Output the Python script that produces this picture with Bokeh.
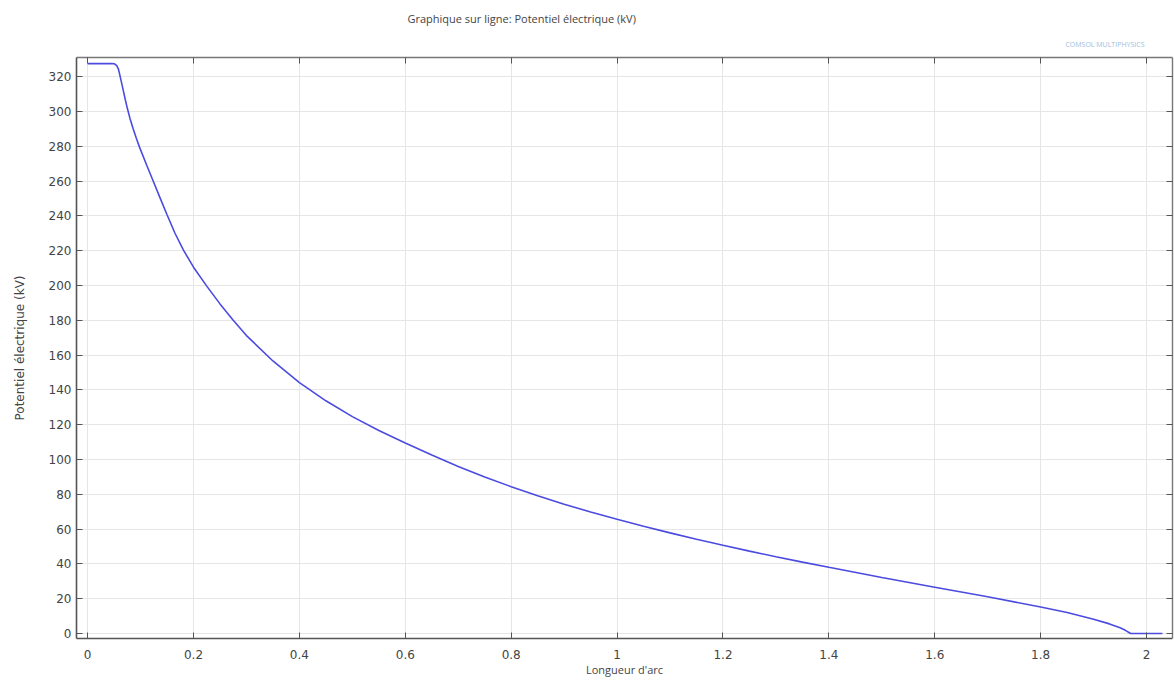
from bokeh.plotting import figure
from bokeh.models import Range1d, LinearAxis, FixedTicker, Title
from bokeh.embed import file_html
from bokeh.resources import INLINE

# Data (arc length, electric potential in kV)
arc_length = [0.0, 0.045, 0.05, 0.052, 0.055, 0.058, 0.06, 0.063, 0.067, 0.071,
              0.075, 0.08, 0.086, 0.092, 0.098, 0.112, 0.125, 0.137, 0.15, 0.165,
              0.181, 0.2, 0.225, 0.25, 0.275, 0.3, 0.35, 0.4, 0.45, 0.5,
              0.55, 0.6, 0.65, 0.7, 0.75, 0.8, 0.85, 0.9, 0.95, 1.0,
              1.05, 1.1, 1.15, 1.2, 1.25, 1.3, 1.35, 1.4, 1.5, 1.6,
              1.7, 1.8, 1.85, 1.9, 1.93, 1.95, 1.96, 1.97, 2.03]
potential_kv = [327.5, 327.5, 327.4, 327.1, 326.3, 324.5, 322.0, 318.0, 312.5, 307.0,
                301.8, 296.0, 290.0, 284.6, 279.5, 268.8, 259.2, 250.2, 240.6, 230.0,
                220.3, 210.5, 199.6, 189.4, 180.0, 171.2, 156.6, 144.2, 133.7, 124.6,
                116.6, 109.5, 102.5, 96.0, 89.95, 84.35, 79.15, 74.3, 69.8, 65.6,
                61.6, 57.8, 54.15, 50.65, 47.3, 44.1, 41.0, 38.0, 32.2, 26.6,
                21.1, 15.2, 12.0, 8.2, 5.5, 3.3, 1.8, 0.0, 0.0]

x_ticks = [0, 0.2, 0.4, 0.6, 0.8, 1, 1.2, 1.4, 1.6, 1.8, 2]
x_tick_labels = ["0", "0.2", "0.4", "0.6", "0.8", "1", "1.2", "1.4", "1.6", "1.8", "2"]
y_ticks = list(range(0, 321, 20))

title_text = "Graphique sur ligne: Potentiel électrique (kV)"
x_label = "Longueur d'arc"
y_label = "Potentiel électrique (kV)"
logo_text = "COMSOL MULTIPHYSICS"

p = figure(width=1174, height=682, output_backend="svg", toolbar_location=None,
           x_range=Range1d(-0.021, 2.049), y_range=Range1d(-2.9, 331),
           min_border_left=76, min_border_right=2, min_border_top=0, min_border_bottom=44)

p.title.text = title_text
p.title.align = "left"
p.title.offset = 331
p.title.text_font = "Open Sans"
p.title.text_font_size = "11px"
p.title.text_font_style = "normal"
p.title.text_color = "#444444"
p.title.standoff = 16

p.line(arc_length, potential_kv, line_color="#4b4be0", line_width=1.6)

label_font = "DejaVu Sans"
for ax in [p.xaxis[0], p.yaxis[0]]:
    ax.major_tick_in = 6
    ax.major_tick_out = 0
    ax.minor_tick_in = 0
    ax.minor_tick_out = 0
    ax.axis_line_color = "#555555"
    ax.axis_line_width = 1.6
    ax.major_tick_line_color = "#555555"
    ax.major_label_text_font = label_font
    ax.major_label_text_font_size = "12px"
    ax.major_label_text_color = "#444444"
    ax.axis_label_text_font_style = "normal"
    ax.axis_label_text_color = "#444444"

p.xaxis.ticker = FixedTicker(ticks=x_ticks)
p.xaxis.major_label_overrides = {t: l for t, l in zip(x_ticks, x_tick_labels)}
p.xaxis.axis_label = x_label
p.xaxis.axis_label_text_font = "Open Sans"
p.xaxis.axis_label_text_font_size = "11px"
p.xaxis.major_label_standoff = 11
p.xaxis.axis_label_standoff = 0

p.yaxis.ticker = FixedTicker(ticks=y_ticks)
p.yaxis.axis_label = y_label
p.yaxis.axis_label_text_font = "DejaVu Sans"
p.yaxis.axis_label_text_font_size = "12px"
p.yaxis.major_label_standoff = 5
p.yaxis.axis_label_standoff = 19

# top and right axes with inward ticks, no labels
top_ax = LinearAxis(ticker=FixedTicker(ticks=x_ticks))
right_ax = LinearAxis(ticker=FixedTicker(ticks=y_ticks))
top_ax.major_label_overrides = {t: "" for t in x_ticks}
right_ax.major_label_overrides = {t: "" for t in y_ticks}
for ax in [top_ax, right_ax]:
    ax.major_tick_in = 6
    ax.major_tick_out = 0
    ax.minor_tick_in = 0
    ax.minor_tick_out = 0
    ax.axis_line_color = "#777777"
    ax.axis_line_width = 1.4
    ax.major_tick_line_color = "#555555"
    ax.major_label_text_font_size = "1px"
    ax.major_label_standoff = 0
    ax.axis_label_standoff = 0
p.add_layout(top_ax, "above")
p.add_layout(right_ax, "right")

logo = Title(text=logo_text, align="right", offset=28, text_font="Open Sans",
             text_font_size="7px", text_font_style="normal", text_color="#9dbde0",
             standoff=13, vertical_align="top")
p.add_layout(logo, "above")

p.xgrid.ticker = FixedTicker(ticks=x_ticks)
p.ygrid.ticker = FixedTicker(ticks=y_ticks)
p.xgrid.grid_line_color = "#e6e6e6"
p.ygrid.grid_line_color = "#e6e6e6"
p.outline_line_color = None
p.background_fill_color = "white"
p.border_fill_color = "white"

open("out.html", "w").write(file_html(p, INLINE))
